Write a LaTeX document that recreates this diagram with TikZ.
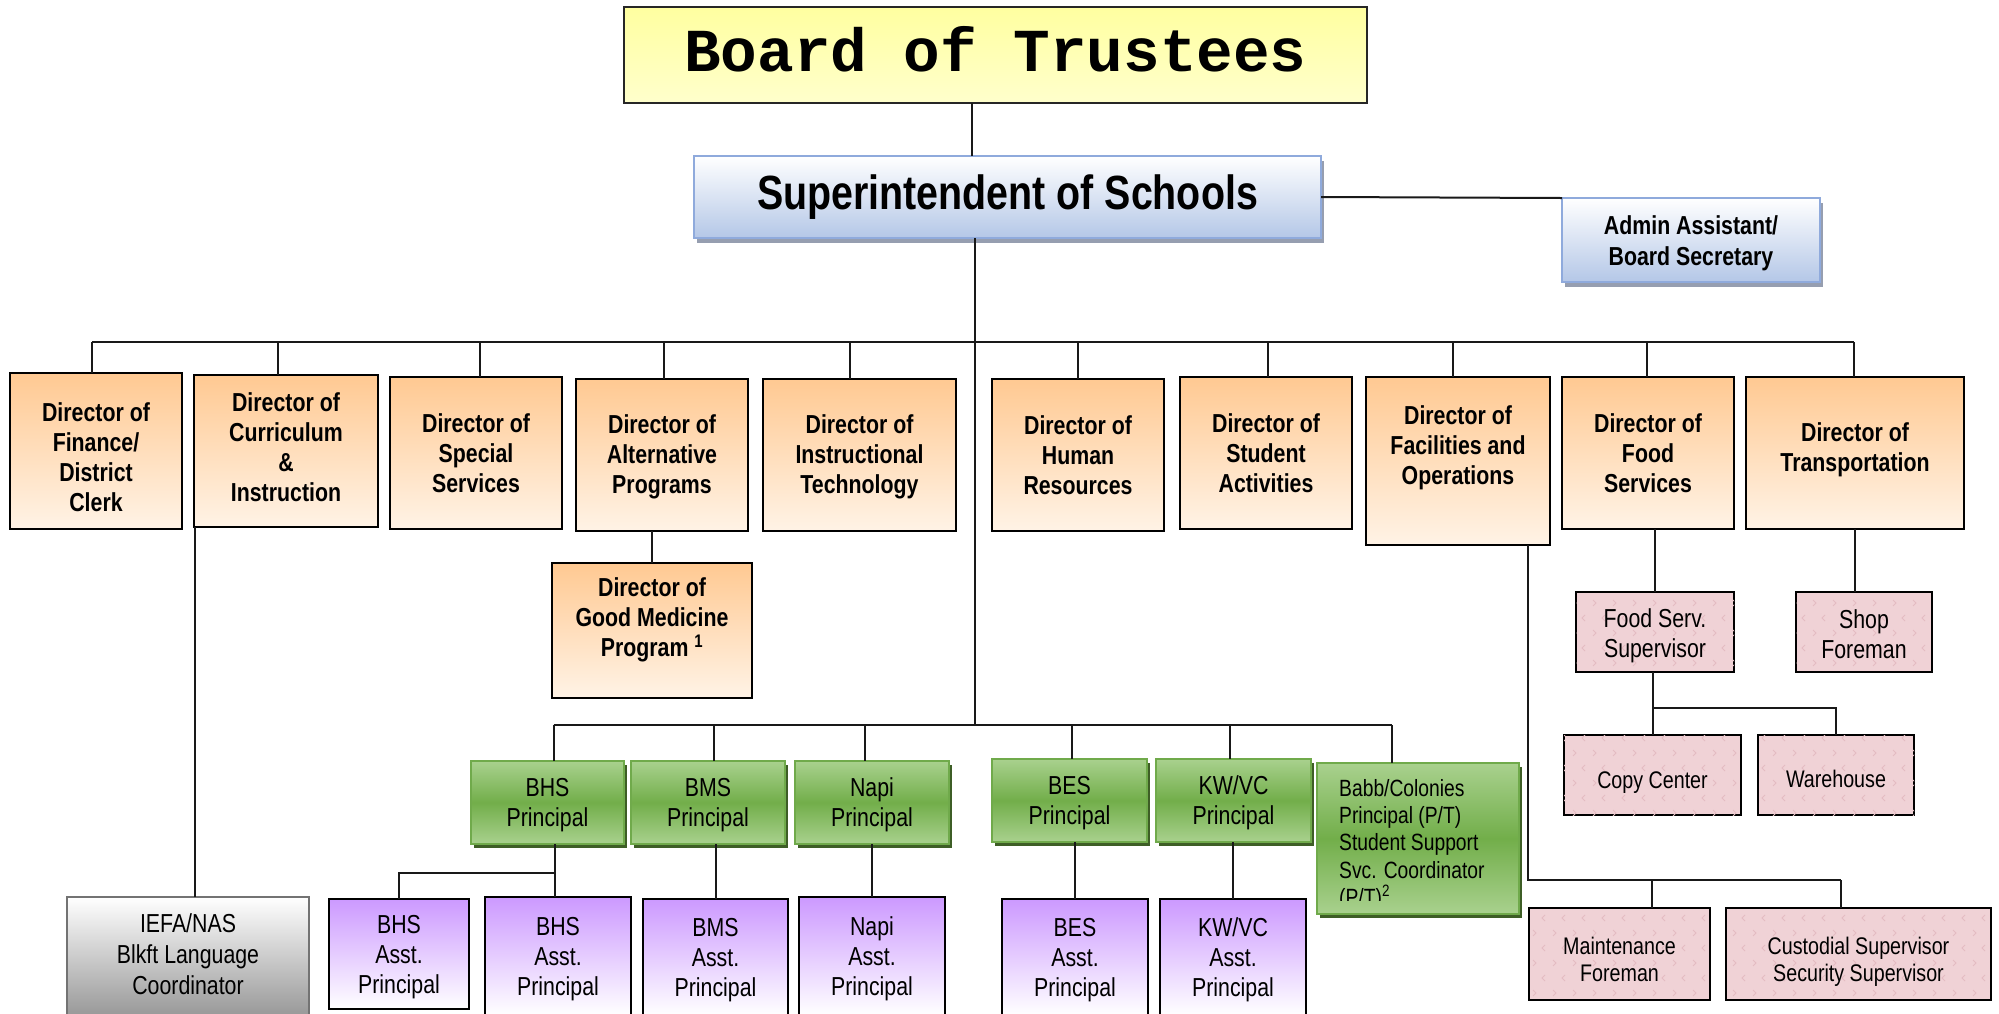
\documentclass[tikz,border=0pt]{standalone}
\usepackage{fontspec}
\setmainfont{Liberation Sans}
\newfontfamily\nar[FakeStretch=0.82]{Liberation Sans}
\newfontfamily\monof{Liberation Mono}
\usetikzlibrary{shadows,calc,patterns}
\definecolor{dirTop}{RGB}{255,201,146}
\definecolor{dirBot}{RGB}{255,243,230}
\definecolor{supBorder}{RGB}{143,170,220}
\definecolor{supBot}{RGB}{180,199,231}
\definecolor{supShadow}{RGB}{150,158,176}
\definecolor{prLight}{RGB}{169,209,142}
\definecolor{prDark}{RGB}{114,174,74}
\definecolor{prBorder}{RGB}{112,170,75}
\definecolor{prShadow}{RGB}{62,94,38}
\definecolor{astTop}{RGB}{204,153,255}
\definecolor{pinkFill}{RGB}{240,210,214}
\definecolor{chevCol}{RGB}{228,188,194}
\definecolor{boardTop}{RGB}{255,255,160}
\definecolor{boardBot}{RGB}{255,255,204}
\pgfdeclarepatternformonly{chev}{\pgfpoint{-1pt}{-1pt}}{\pgfpoint{21pt}{31pt}}{\pgfpoint{20pt}{30pt}}{%
  \pgfsetlinewidth{0.9pt}%
  \pgfpathmoveto{\pgfpoint{5pt}{2pt}}\pgfpathlineto{\pgfpoint{2pt}{5pt}}\pgfpathlineto{\pgfpoint{5pt}{8pt}}%
  \pgfpathmoveto{\pgfpoint{13pt}{17pt}}\pgfpathlineto{\pgfpoint{16pt}{20pt}}\pgfpathlineto{\pgfpoint{13pt}{23pt}}%
  \pgfusepath{stroke}}
\newcommand\dn[1]{\rule{0pt}{#1pt}}
\newcommand\upr[1]{\rule[-#1pt]{0pt}{0pt}}
\begin{document}
\begin{tikzpicture}[x=1pt,y=-1pt,
  base/.style={anchor=north west, inner sep=0pt, outer sep=0pt, align=center, text=black},
  boardbox/.style={base, draw=black!85, line width=2.5pt, top color=boardTop, bottom color=boardBot,
     font=\monof\bfseries\fontsize{61}{61}\selectfont},
  supbox/.style={base, draw=supBorder, line width=2.5pt, top color=white, bottom color=supBot,
     drop shadow={shadow xshift=3pt, shadow yshift=-5pt, fill=supShadow, opacity=1}},
  dirbox/.style={base, draw=black, line width=2.2pt, top color=dirTop, bottom color=dirBot,
     font=\nar\bfseries\fontsize{26}{30}\selectfont},
  dirtext/.style={inner sep=0pt, align=center, font=\nar\bfseries\fontsize{26}{30}\selectfont},
  prbox/.style={base, draw=prBorder, line width=2.5pt, top color=prLight, bottom color=prLight, middle color=prDark,
     drop shadow={shadow xshift=3pt, shadow yshift=-4pt, fill=prShadow, opacity=1},
     font=\nar\fontsize{26}{30}\selectfont},
  astbox/.style={base, draw=black, line width=2.2pt, top color=astTop, bottom color=white,
     font=\nar\fontsize{26}{30}\selectfont},
  graybox/.style={base, draw=black!55, line width=2.5pt, top color=white, bottom color=black!40,
     font=\nar\fontsize{26}{31}\selectfont},
  pinkbox/.style={base, draw=black, line width=2.2pt, fill=pinkFill,
     postaction={pattern=chev, pattern color=chevCol},
     font=\nar\fontsize{26}{30}\selectfont},
  pinksmall/.style={pinkbox, font=\nar\fontsize{24}{27}\selectfont},
  conn/.style={draw=black!90, line width=2pt},
  mw/.style={minimum width=#1pt},
  mh/.style={minimum height=#1pt}
]
\path[use as bounding box] (0,0) rectangle (1999,1013);
\clip (0,0) rectangle (1999,1013);

% top
\node[boardbox, mw=743, mh=96] (board) at (624,7) {Board of Trustees\upr{12}};
\node[supbox, mw=627, mh=82, font=\nar\bfseries\fontsize{48}{50}\selectfont] (super) at (694,156) {Superintendent of Schools};
\node[supbox, mw=258, mh=84, font=\nar\bfseries\fontsize{26}{31}\selectfont] (admin) at (1562,198) {\dn{25}Admin Assistant/\\Board Secretary};

% directors
\node[dirbox, mw=172, mh=156] (fin) at (10,373) {\dn{32}Director of\\Finance/\\District\\Clerk};
\node[dirbox, mw=184, mh=152] (cur) at (194,375) {Director of\\Curriculum\\\&\\Instruction\upr{7}};
\node[dirbox, mw=172, mh=152] (spec) at (390,377) {Director of\\Special\\Services};
\node[dirbox, mw=172, mh=152] (alt) at (576,379) {\dn{22}Director of\\Alternative\\Programs};
\node[dirbox, mw=200, mh=135] (gm) at (552,563) {};
\node[dirtext] (gmT) at ([yshift=11pt]gm.center) {Director of\\Good Medicine\\Program \textsuperscript{1}};
\node[dirbox, mw=193, mh=152] (tech) at (763,379) {\dn{22}Director of\\Instructional\\Technology};
\node[dirbox, mw=172, mh=152] (hr) at (992,379) {Director of\\Human\\Resources};
\node[dirbox, mw=172, mh=152] (stu) at (1180,377) {Director of\\Student\\Activities};
\node[dirbox, mw=184, mh=168] (fac) at (1366,377) {};
\node[dirtext] (facT) at ([yshift=13pt]fac.center) {Director of\\Facilities and\\Operations};
\node[dirbox, mw=172, mh=152] (food) at (1562,377) {Director of\\Food\\Services};
\node[dirbox, mw=218, mh=152] (trans) at (1746,377) {};
\node[dirtext] (transT) at ([yshift=3pt]trans.center) {Director of\\Transportation};

% pink boxes
\node[pinkbox, mw=158, mh=80] (fss) at (1576,592) {\dn{26}Food Serv.\\Supervisor};
\node[pinkbox, mw=136, mh=80] (shop) at (1796,592) {\dn{24}Shop\\Foreman};
\node[pinksmall, mw=177, mh=80] (copy) at (1564,735) {\dn{31.5}Copy Center};
\node[pinksmall, mw=156, mh=80] (ware) at (1758,735) {\dn{26}Warehouse};
\node[pinksmall, mw=181, mh=92] (maint) at (1529,908) {\dn{27.5}Maintenance\\Foreman};
\node[pinksmall, mw=265, mh=92] (cust) at (1726,908) {\dn{33}Custodial Supervisor\\Security Supervisor};

% gray box
\node[graybox, mw=242, mh=118] (iefa) at (67,897) {IEFA/NAS\\Blkft Language\\Coordinator\upr{3}};

% principals
\node[prbox, mw=153, mh=83] (bhs) at (471,761) {\dn{24}BHS\\Principal};
\node[prbox, mw=154, mh=83] (bms) at (631,761) {\dn{24}BMS\\Principal};
\node[prbox, mw=154, mh=83] (napi) at (795,761) {\dn{24}Napi\\Principal};
\node[prbox, mw=155, mh=83] (bes) at (992,759) {\dn{24}BES\\Principal};
\node[prbox, mw=155, mh=83] (kw) at (1156,759) {\dn{24}KW/VC\\Principal};
\node[prbox, mw=202, mh=151] (babb) at (1317,763) {};
\begin{scope}
  \clip (1317,763) rectangle (1519,900);
  \node[anchor=north west, inner sep=0pt, align=left, font=\nar\fontsize{23.5}{27.3}\selectfont] (babbT) at (1339,779)
   {Babb/Colonies\\Principal (P/T)\\Student Support\\Svc. Coordinator\\(P/T)\textsuperscript{2}};
\end{scope}

% assistant principals
\node[astbox, mw=140, mh=110] (bhsa1) at (329,899) {\dn{24}BHS\\Asst.\\Principal};
\node[astbox, mw=146, mh=118] (bhsa2) at (485,897) {\dn{24}BHS\\Asst.\\Principal};
\node[astbox, mw=145, mh=116] (bmsa) at (643,899) {\dn{24}BMS\\Asst.\\Principal};
\node[astbox, mw=146, mh=118] (napia) at (799,897) {\dn{24}Napi\\Asst.\\Principal};
\node[astbox, mw=146, mh=116] (besa) at (1002,899) {\dn{24}BES\\Asst.\\Principal};
\node[astbox, mw=146, mh=116] (kwa) at (1160,899) {\dn{24}KW/VC\\Asst.\\Principal};

% connectors
\coordinate (j0) at (972,0);
\draw[conn] (j0 |- board.south) -- (j0 |- super.north);
\draw[conn] (super.east) -- (admin.north west);
\coordinate (bus) at (0,342);
\foreach \n/\s in {fin/-4,cur/-8,spec/4,alt/2,tech/-10,hr/0,stu/2,fac/-5,food/-1,trans/-1}{
  \coordinate (d\n) at ([xshift=\s pt]\n.north);
  \draw[conn] (d\n |- bus) -- (d\n);
}
\draw[conn] (dfin |- bus) -- (dtrans |- bus);
\coordinate (mainx) at (975,0);
\coordinate (pbus) at (0,725);
\draw[conn] (mainx |- super.south) -- (mainx |- pbus);
\coordinate (babbx) at (1392,0);
\foreach \n/\s in {bhs/6,bms/6,napi/-7,bes/2,kw/-4}{
  \coordinate (d\n) at ([xshift=\s pt]\n.north);
  \draw[conn] (d\n |- pbus) -- (d\n);
}
\draw[conn] (dbhs |- pbus) -- (babbx |- pbus);
\draw[conn] (babbx |- pbus) -- (babbx |- babb.north);
\draw[conn] (gm.north) -- (gm.north |- alt.south);
\coordinate (curL) at ([xshift=1pt]cur.south west);
\draw[conn] (curL) -- (curL |- iefa.north);
% facilities branch
\coordinate (facx) at (1528,0);
\coordinate (fbus) at (0,880);
\coordinate (mx) at (1652,0);
\coordinate (cx) at (1841,0);
\draw[conn] (facx |- fac.south) -- (facx |- fbus) -- (cx |- fbus);
\draw[conn] (mx |- fbus) -- (mx |- maint.north);
\draw[conn] (cx |- fbus) -- (cx |- cust.north);
% food / transport
\draw[conn] (fss.north) -- (fss.north |- food.south);
\draw[conn] (trans.south) -- (trans.south |- shop.north);
\coordinate (cbus) at (0,708);
\draw[conn] (copy.north |- fss.south) -- (copy.north);
\draw[conn] (copy.north |- cbus) -- (ware.north |- cbus) -- (ware.north);
% BHS assistants
\coordinate (bx) at (555,0);
\coordinate (abus) at (0,873);
\draw[conn] (bx |- bhs.south) -- (bx |- bhsa2.north);
\draw[conn] (bx |- abus) -- (bhsa1.north |- abus) -- (bhsa1.north);
\draw[conn] (bmsa.north) -- (bmsa.north |- bms.south);
\draw[conn] (napia.north) -- (napia.north |- napi.south);
\draw[conn] (besa.north) -- (besa.north |- bes.south);
\draw[conn] (kwa.north) -- (kwa.north |- kw.south);
\end{tikzpicture}
\end{document}
